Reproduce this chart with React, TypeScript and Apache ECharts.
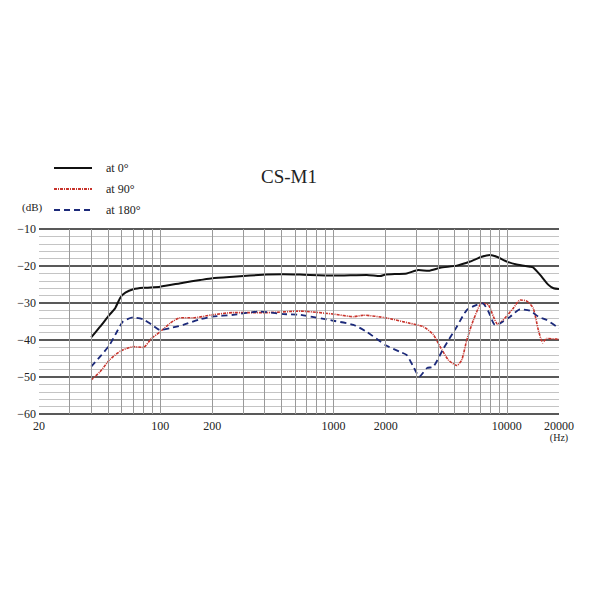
import React, { useEffect, useRef } from "react";
import * as echarts from "echarts";

const seriesNames = ["at 0°", "at 90°", "at 180°"];

const freq0 = [40, 45, 51, 55, 59, 63, 70, 80, 100, 136, 170, 200, 264, 412, 514, 641, 1000, 1556, 1857, 2000, 2648, 3091, 3534, 4122, 5146, 6139, 7168, 8004, 8748, 10000, 11400, 13610, 14200, 15570, 17380, 18600, 20000];
const db0 = [-39.3, -36.4, -33.2, -31.4, -28.5, -27.2, -26.3, -25.9, -25.6, -24.5, -23.8, -23.3, -22.9, -22.3, -22.2, -22.3, -22.6, -22.4, -22.7, -22.3, -22.0, -21.1, -21.3, -20.5, -19.9, -18.8, -17.5, -17.0, -17.5, -18.8, -19.6, -20.2, -20.4, -22.4, -25.1, -26.0, -26.2];

const freq90 = [40, 45, 51, 59, 70, 80, 89, 100, 114, 130, 155, 200, 264, 412, 641, 1000, 1303, 1494, 2000, 2767, 3303, 3773, 4122, 4602, 5146, 5497, 5876, 6418, 7168, 7830, 8370, 8830, 9360, 10900, 11940, 13040, 14200, 15200, 16120, 17000, 20000];
const db90 = [-50.8, -48.6, -45.4, -43.0, -41.8, -42.0, -39.6, -37.8, -35.5, -34.0, -34.0, -33.2, -32.6, -32.6, -32.2, -33.0, -33.7, -33.3, -34.0, -35.5, -36.4, -38.6, -41.8, -45.4, -46.9, -45.4, -40.0, -34.6, -30.1, -30.5, -33.7, -35.7, -35.0, -31.4, -29.2, -29.5, -31.4, -37.3, -40.7, -39.6, -39.8];

const freq180 = [40, 45, 51, 57, 61, 70, 80, 89, 100, 114, 136, 170, 200, 264, 375, 514, 641, 1000, 1303, 1556, 2000, 2421, 2648, 2890, 3130, 3460, 3773, 4310, 5146, 5876, 6710, 7260, 7830, 8550, 9140, 10450, 11940, 13610, 15200, 17000, 20000];
const db180 = [-47.2, -44.5, -41.4, -37.3, -35.0, -33.9, -34.4, -35.8, -37.3, -36.8, -35.9, -34.4, -33.7, -33.2, -32.3, -33.0, -33.2, -34.8, -35.9, -37.8, -41.4, -43.2, -44.1, -47.2, -49.9, -47.6, -47.2, -42.3, -36.4, -31.9, -30.5, -30.1, -32.3, -35.9, -35.5, -33.7, -31.7, -32.1, -33.7, -34.6, -36.8];

const xLabelValues = [20, 100, 200, 1000, 2000, 10000, 20000];
const gridFreqs = [30, 40, 50, 60, 70, 80, 90, 100, 200, 300, 400, 500, 600, 700, 800, 900, 1000, 2000, 3000, 4000, 5000, 6000, 7000, 8000, 9000, 10000];

const pairs = (f: number[], d: number[]) => f.map((v, i) => [v, d[i]]);

const SERIF = "Liberation Serif";

export default function App() {
  const ref = useRef<HTMLDivElement>(null);
  useEffect(() => {
    if (!ref.current) return;
    const chart = echarts.init(ref.current, null, { renderer: "svg" });
    chart.setOption({
      animation: false,
      backgroundColor: "#fff",
      textStyle: { fontFamily: SERIF },
      title: {
        text: "CS-M1",
        left: 256,
        top: 162,
        textStyle: { fontFamily: SERIF, fontSize: 19, fontWeight: "normal", color: "#222" },
      },
      legend: {
        data: seriesNames,
        orient: "vertical",
        left: 53,
        top: 162,
        padding: 0,
        itemWidth: 38,
        itemHeight: 10,
        itemGap: 9,
        itemStyle: { opacity: 0 },
        textStyle: { fontFamily: SERIF, fontSize: 12, color: "#222", padding: [0, 0, 0, 9] },
      },
      graphic: [
        {
          type: "text",
          left: 22,
          top: 201,
          style: { text: "(dB)", fontFamily: SERIF, fontSize: 11, fill: "#222" },
        },
      ],
      grid: { left: 39, right: 41, top: 229, bottom: 186 },
      xAxis: {
        type: "log",
        logBase: 10,
        min: 20,
        max: 20000,
        axisLine: { show: false },
        axisTick: { show: false },
        splitLine: { show: false },
        axisLabel: {
          customValues: xLabelValues,
          margin: 6,
          fontFamily: SERIF,
          fontSize: 12,
          color: "#222",
          lineHeight: 12,
          formatter: (v: number) => (v === 20000 ? "20000\n{u|(Hz)}" : String(v)),
          rich: { u: { fontFamily: SERIF, fontSize: 10, color: "#222", lineHeight: 11 } },
        },
      },
      yAxis: {
        type: "value",
        min: -60,
        max: -10,
        interval: 10,
        axisLine: { show: false },
        axisTick: { show: false },
        axisLabel: {
          margin: 3,
          fontFamily: SERIF,
          fontSize: 12,
          color: "#222",
          formatter: (v: number) => String(v).replace("-", "\u2212"),
        },
        splitLine: { show: true, lineStyle: { color: "#222", width: 1.5 } },
        minorTick: { show: false, splitNumber: 5 },
        minorSplitLine: { show: true, lineStyle: { color: "#c4c4c4", width: 1 } },
      },
      series: [
        {
          name: "grid",
          type: "line",
          data: [[20, -60]],
          symbol: "none",
          silent: true,
          z: 1,
          lineStyle: { opacity: 0 },
          markLine: {
            silent: true,
            symbol: ["none", "none"],
            label: { show: false },
            lineStyle: { type: "solid", color: "#9a9a9a", width: 1 },
            data: gridFreqs.map((f) => ({ xAxis: f })),
          },
        },
        {
          name: seriesNames[0],
          type: "line",
          data: pairs(freq0, db0),
          symbol: "none",
          smooth: 0.2,
          z: 3,
          color: "#111",
          lineStyle: { color: "#111", width: 2, type: "solid" },
        },
        {
          name: seriesNames[1],
          type: "line",
          data: pairs(freq90, db90),
          symbol: "none",
          smooth: 0.2,
          z: 3,
          color: "#c8342c",
          lineStyle: { color: "#c8342c", width: 1.6, type: [3, 1, 1, 1] },
        },
        {
          name: seriesNames[2],
          type: "line",
          data: pairs(freq180, db180),
          symbol: "none",
          smooth: 0.2,
          z: 3,
          color: "#1c2a7a",
          lineStyle: { color: "#1c2a7a", width: 1.8, type: [6, 4] },
        },
      ],
    });
    return () => chart.dispose();
  }, []);
  return <div ref={ref} style={{ width: 600, height: 600, margin: -8 }} />;
}
